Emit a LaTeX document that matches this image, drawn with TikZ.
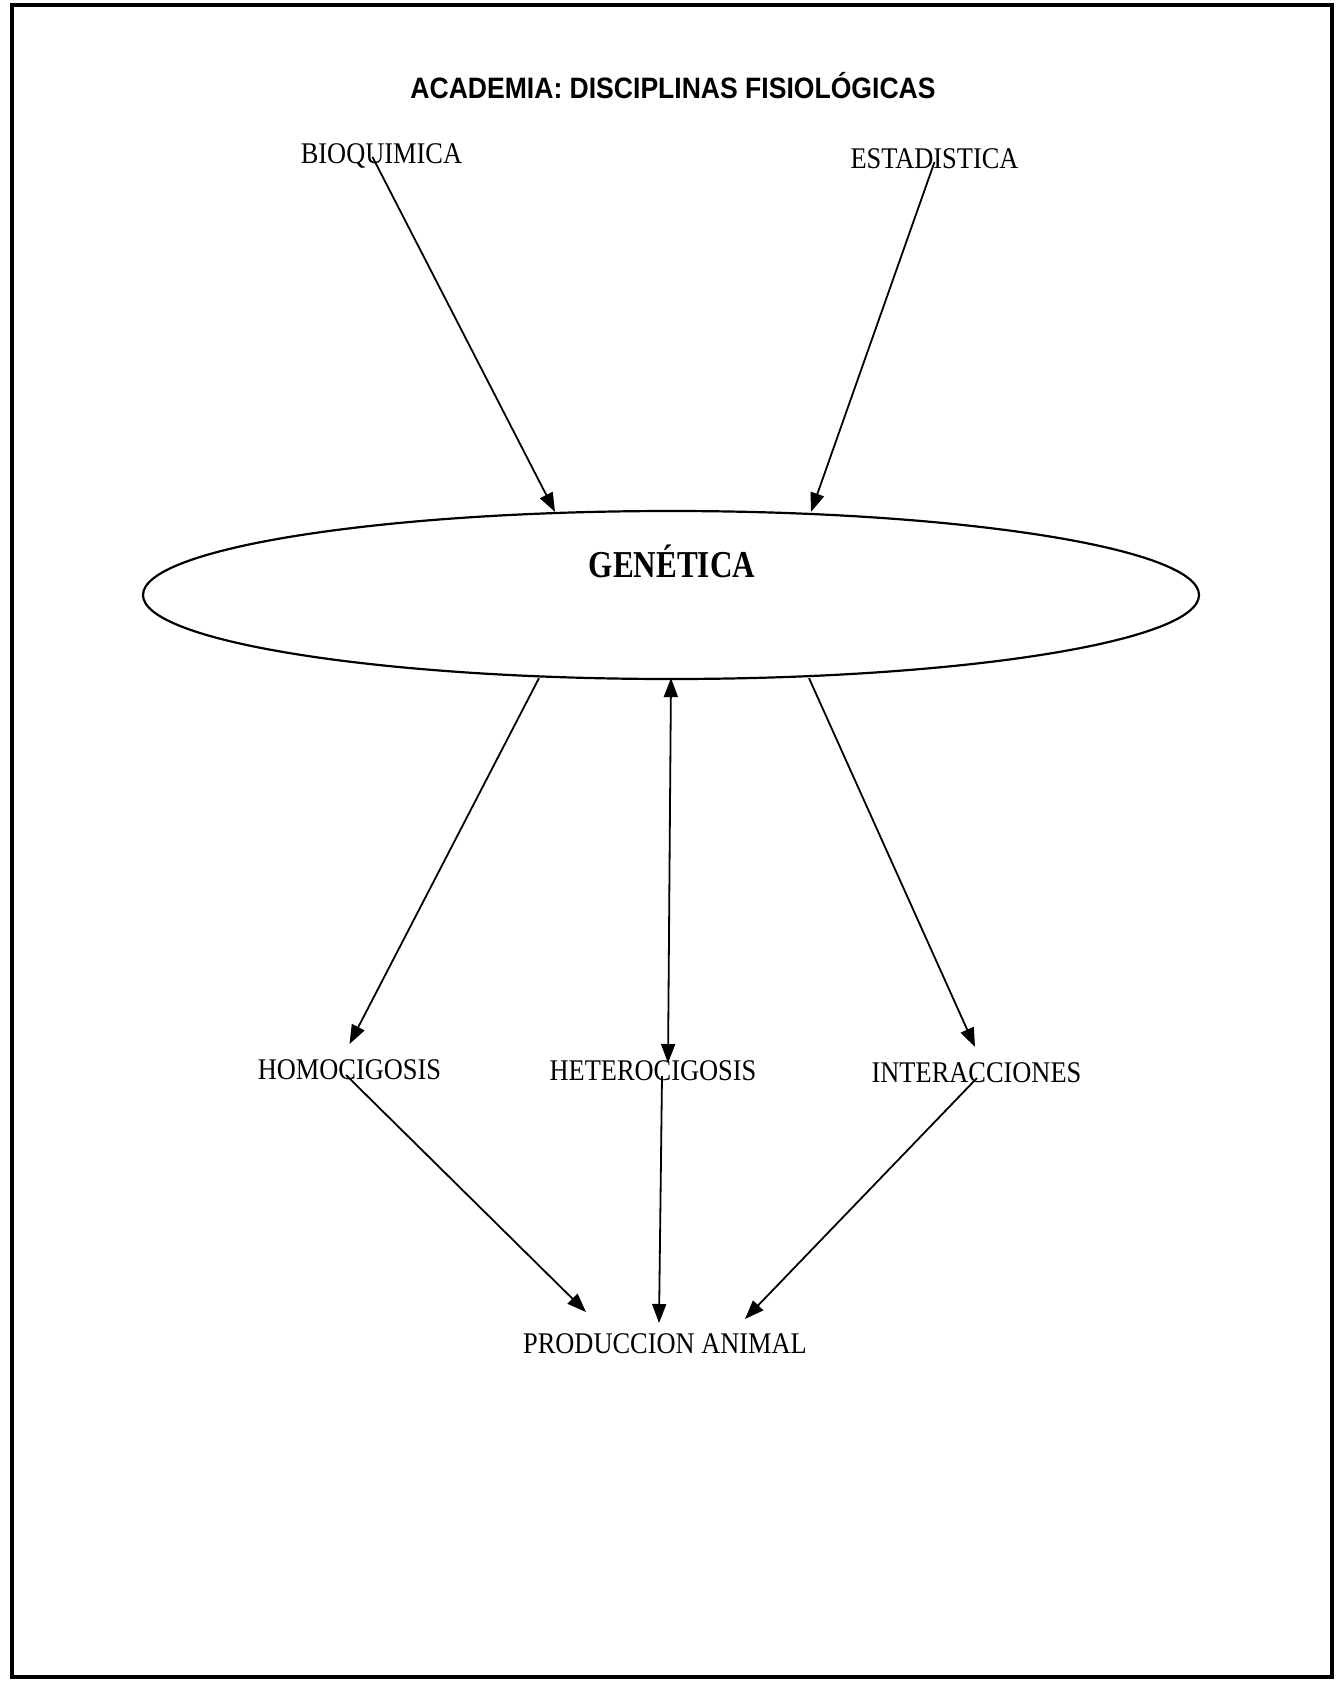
\documentclass[tikz,border=0pt]{standalone}
\usepackage{fontspec}
\usepackage{graphicx}
\setmainfont{Liberation Serif}
\newfontfamily\arialf{Liberation Sans}
\usetikzlibrary{arrows.meta,shapes.geometric}
\newcommand{\sqz}[2]{\scalebox{#1}[1]{#2}}
\tikzset{
  lbl/.style={anchor=base,inner sep=0pt,font=\fontsize{30}{36}\selectfont},
  conn/.style={line width=1.8pt,-{Triangle[length=19pt,width=14pt]}},
  conn2/.style={line width=1.8pt,{Triangle[length=19pt,width=14pt]}-{Triangle[length=19pt,width=14pt]}}
}
\begin{document}
\begin{tikzpicture}[x=1pt,y=-1pt]
\useasboundingbox (0,0) rectangle (1336,1684);
\draw[line width=4.5pt] (12,5) rectangle (1332,1677);

\node[anchor=base,inner sep=0pt,font=\arialf\bfseries\fontsize{29.5}{34}\selectfont] (title) at (673,98) {\sqz{0.9}{ACADEMIA: DISCIPLINAS FISIOLÓGICAS}};

\node[lbl] (bio) at (381.5,163) {\sqz{0.88}{BIOQUIMICA}};
\node[lbl] (est) at (934.5,168) {\sqz{0.88}{ESTADISTICA}};

\node[draw,ellipse,line width=2.2pt,minimum width=1056pt,minimum height=168pt,inner sep=0pt] (gen) at (671,595) {};
\node[anchor=base,inner sep=0pt,font=\bfseries\fontsize{38}{44}\selectfont] (gentxt) at (672,577) {\sqz{0.82}{GENÉTICA}};

\node[lbl] (homo) at (349.5,1079) {\sqz{0.88}{HOMOCIGOSIS}};
\node[lbl] (hetero) at (653,1080) {\sqz{0.88}{HETEROCIGOSIS}};
\node[lbl] (inter) at (976.5,1082) {\sqz{0.88}{INTERACCIONES}};
\node[lbl] (prod) at (665,1353) {\sqz{0.88}{PRODUCCION ANIMAL}};

\draw[conn] ([xshift=-9pt,yshift=6pt]bio.base) -- ([xshift=-116pt,yshift=-2pt]gen.north);
\draw[conn] ([yshift=6pt]est.base) -- ([xshift=140pt,yshift=-2pt]gen.north);

\draw[conn] ([xshift=-132pt,yshift=2pt]gen.south) -- ([yshift=35pt]homo.base);
\draw[conn2] ([yshift=2pt]gen.south) -- ([xshift=15pt,yshift=17pt]hetero.base);
\draw[conn] ([xshift=138pt,yshift=2pt]gen.south) -- ([xshift=-1.5pt,yshift=35pt]inter.base);

\draw[conn] ([xshift=-3.5pt,yshift=4pt]homo.base) -- ([xshift=-79pt,yshift=41pt]prod.base);
\draw[conn] ([xshift=9pt,yshift=4pt]hetero.base) -- ([xshift=-6pt,yshift=30pt]prod.base);
\draw[conn] ([xshift=0.5pt,yshift=4pt]inter.base) -- ([xshift=80pt,yshift=34pt]prod.base);
\end{tikzpicture}
\end{document}
